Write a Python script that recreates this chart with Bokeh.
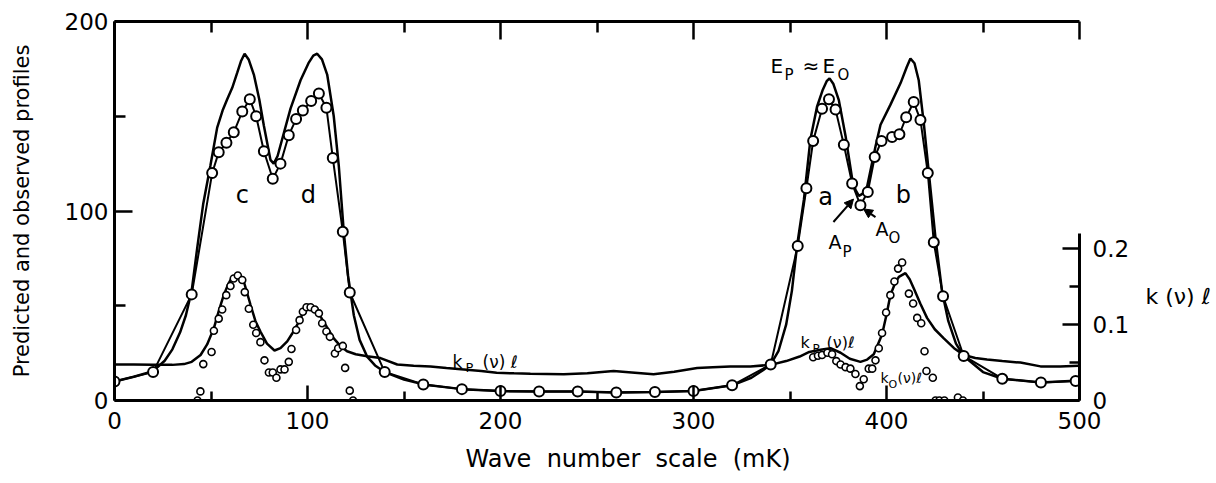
from bokeh.plotting import figure
from bokeh.models import (Range1d, LinearAxis, FixedTicker, CustomJSTickFormatter,
                          Label, Arrow, NormalHead, Title)
from bokeh.embed import file_html
from bokeh.resources import INLINE

# ---------------- data ----------------
# Observed profile E_O (open circles joined by a line)
eo_x = [0, 20, 40, 50.6, 54, 58, 61.8, 66.2, 70.1, 73.4, 77.4, 82, 86, 90.3, 94.1, 97.6,
        101.9, 105.9, 109.8, 113.1, 118.3, 121.9, 140, 160, 180, 200, 220, 240, 260, 280,
        300, 320, 340, 354, 358.5, 362, 366.6, 370.2, 373.6, 377.9, 382.2, 386.5, 390.3,
        393.9, 397.4, 402.9, 406.7, 410.2, 414.1, 417.6, 421.4, 424.5, 429.3, 440, 460,
        480, 498]
eo_y = [10, 15, 56, 120, 131, 136, 141.5, 152.5, 159, 150, 131.5, 117, 125, 140, 148.5, 153,
        158, 162, 154.5, 128, 89, 57, 15, 8.5, 6, 5, 4.7, 4.7, 4.2, 4.5,
        5, 8, 19, 81.5, 112, 137, 154, 159, 153.5, 135, 114.5, 103, 110,
        128.5, 137, 139, 140.5, 149.5, 157.5, 148, 120, 83.5, 55, 23.5, 11.5,
        9.5, 10.3]

# Predicted profile E_P (solid line)
ep_x = [0, 10, 20, 26, 30, 34, 37, 40, 42.8, 46, 49.7, 53.2, 56, 58.4, 61, 63.6, 65.5, 67.4,
        69.5, 72.2, 75, 77.4, 80.8, 82.5, 84.5, 86.9, 91.2, 96.4, 100.5, 103, 105, 107.5,
        110.2, 113.6, 116.2, 118.8, 121, 124, 127, 131, 135, 140, 150, 160, 180, 200, 220,
        240, 260, 280, 300, 320, 330, 336, 340, 344, 348, 351, 353.7, 357.2, 360.6, 364,
        367, 369, 370.5, 372.5, 375.3, 378.8, 382.2, 384, 385.7, 387.5, 390, 394.3, 396.9,
        402, 407.3, 410.5, 412.4, 414.5, 416.7, 419.3, 422.8, 425.4, 428.8, 432, 436, 440,
        450, 460, 480, 500]
ep_y = [10, 12.5, 15.5, 21, 27, 36, 45, 58, 80, 104, 124, 144, 153, 159, 165, 173, 179, 183,
        180, 172, 159, 145, 127, 125, 129, 138, 154, 169, 178, 182, 183, 180,
        172, 150, 124, 89, 66, 45, 32, 23, 18.5, 15, 11, 8.5, 6, 5, 4.7,
        4.7, 4.2, 4.5, 5, 8, 12, 16, 19, 26, 40, 58, 82, 106, 138, 155,
        164, 168.5, 170, 167, 158.5, 139.5, 117, 111, 108, 109, 113, 134, 145.5,
        156, 167.5, 176, 180.5, 178, 169, 146.5, 111.5, 85.5, 57.5, 42, 30, 23.5,
        15, 11.5, 9.5, 10.5]

# Predicted absorption k_P(nu)l (right axis)
kp_x = [0, 10, 20, 30, 36, 40, 44.6, 48, 51.5, 54, 56.6, 59, 61, 63.9, 67, 70.5, 73, 75.6,
        79, 82.9, 86, 89.5, 92, 94.7, 97, 99, 101.6, 104, 106.7, 110, 113.6, 117, 120.5,
        125, 130.9, 137.8, 146.5, 155, 163.7, 172, 181, 190, 198, 207, 215.5, 224, 232.8,
        245, 258.6, 268, 279.3, 290, 301.9, 310, 319, 329.5, 340, 348, 355, 360, 365.8,
        371, 376.2, 381, 386.5, 390, 393.4, 397.7, 400, 402, 404.5, 406.4, 409.8, 412,
        414.1, 417.5, 421, 425, 429.7, 435, 440, 446, 452.1, 460, 469.4, 479.8, 490, 499.5]
kp_y = [0.0475, 0.0475, 0.047, 0.047, 0.048, 0.051, 0.060, 0.074, 0.0955, 0.118, 0.139,
        0.154, 0.163, 0.166, 0.157, 0.126, 0.105, 0.091, 0.075, 0.066, 0.069, 0.078, 0.088,
        0.100, 0.112, 0.120, 0.125, 0.121, 0.111, 0.097, 0.082, 0.072, 0.065, 0.061, 0.0585,
        0.056, 0.0475, 0.046, 0.045, 0.043, 0.041, 0.039, 0.0367, 0.0358, 0.0353, 0.035,
        0.0345, 0.036, 0.039, 0.037, 0.0345, 0.038, 0.043, 0.044, 0.045, 0.045, 0.047,
        0.052, 0.058, 0.064, 0.067, 0.069, 0.063, 0.055, 0.051, 0.054, 0.061, 0.087, 0.113,
        0.139, 0.155, 0.163, 0.168, 0.160, 0.148, 0.128, 0.109, 0.094, 0.082, 0.069, 0.060,
        0.056, 0.054, 0.052, 0.050, 0.045, 0.045, 0.046]

# Observed absorption k_O(nu)l (small open circles, right axis)
ko_x = [43, 44.5, 46, 50.3, 51.5, 54, 55.8, 57.9, 60.1, 61.8, 63.9, 66.2, 67.5, 69.6, 71.9,
        73.4, 75.6, 77.7, 80, 82, 83.9, 86, 88.1, 90.3, 91.7, 94.1, 95.9, 97.6, 99.5, 101.6,
        103.8, 105.9, 107.6, 109.8, 111.6, 114.2, 115.9, 118.3, 119.5, 121.9, 123.6,
        362, 364.5, 366.6, 369.4, 371.8, 374, 376.2, 378.8, 381.3, 383.9, 386.2, 388.2,
        390.8, 392.6, 394.3, 396, 397.7, 399.8, 402, 404.1, 406, 408.1, 411.6, 413.8,
        415.9, 418, 419.7, 420.7, 424, 425.4, 427.4, 430, 437, 439.6]
ko_y = [0.0, 0.012, 0.048, 0.064, 0.092, 0.108, 0.120, 0.139, 0.151, 0.161, 0.165, 0.159,
        0.143, 0.121, 0.100, 0.089, 0.077, 0.053, 0.037, 0.037, 0.030, 0.041, 0.041, 0.051,
        0.068, 0.093, 0.106, 0.117, 0.123, 0.123, 0.120, 0.115, 0.102, 0.091, 0.084, 0.062,
        0.069, 0.072, 0.043, 0.013, 0.0,
        0.057, 0.059, 0.060, 0.063, 0.061, 0.052, 0.0475, 0.044, 0.042, 0.035, 0.019, 0.028,
        0.042, 0.042, 0.053, 0.069, 0.089, 0.116, 0.139, 0.157, 0.174, 0.182, 0.141, 0.128,
        0.109, 0.102, 0.065, 0.039, 0.030, 0.0, 0.0, 0.0, 0.004, 0.0]

x_ticks = [0, 100, 200, 300, 400, 500]
x_minor = [50, 150, 250, 350, 450]
y_ticks = [0, 100, 200]
y_minor = [50, 150]
k_ticks = [0, 0.1, 0.2]
k_minor = [0.05, 0.15]

FONT = "DejaVu Sans"

p = figure(width=1216, height=483, x_range=Range1d(0, 500), y_range=Range1d(0, 200),
           output_backend="svg", toolbar_location=None,
           x_axis_location=None, y_axis_location=None,
           min_border_left=114, min_border_right=137, min_border_top=21,
           min_border_bottom=82, background_fill_color="white",
           border_fill_color="white")
p.extra_y_ranges = {"k": Range1d(0, 0.5)}
p.outline_line_color = None
p.grid.visible = False


def style(ax, major, minor, major_len=16, minor_len=10):
    ax.ticker = FixedTicker(ticks=major, minor_ticks=minor)
    ax.axis_line_width = 3
    ax.axis_line_color = "black"
    ax.major_tick_in = major_len
    ax.major_tick_out = 0
    ax.minor_tick_in = minor_len
    ax.minor_tick_out = 0
    ax.major_tick_line_width = 2.5
    ax.minor_tick_line_width = 2.5
    ax.major_tick_line_color = "black"
    ax.minor_tick_line_color = "black"
    ax.major_label_text_font = FONT
    ax.major_label_text_font_size = "23px"
    ax.major_label_text_color = "black"


bottom = LinearAxis()
style(bottom, x_ticks, x_minor, 15, 9)
bottom.major_label_standoff = 11
p.add_layout(bottom, "below")

# x-axis title, placed like the original (left part offset)
p.add_layout(Title(text="Wave\u00a0 number\u00a0 scale\u00a0 (mK)", align="left",
                   offset=351, text_font=FONT, text_font_size="24px",
                   text_font_style="normal", text_color="black", standoff=22),
             "below")

top = LinearAxis()
style(top, x_ticks, x_minor, 18, 11)
top.major_label_text_font_size = "1px"
top.major_label_text_color = None
top.major_label_standoff = 0
p.add_layout(top, "above")

left = LinearAxis(axis_label="Predicted and observed profiles")
style(left, y_ticks, y_minor, 18, 11)
left.major_label_standoff = 6
left.axis_label_text_font = FONT
left.axis_label_text_font_size = "21px"
left.axis_label_text_font_style = "normal"
left.axis_label_text_color = "black"
left.axis_label_standoff = 28
p.add_layout(left, "left")

right = LinearAxis(y_range_name="k", bounds=(0, 0.22))
style(right, k_ticks, k_minor, 17, 10)
right.formatter = CustomJSTickFormatter(code="return tick == 0 ? '0' : tick.toFixed(1)")
right.major_label_standoff = 13
p.add_layout(right, "right")

# right-hand axis title "k(nu)l", horizontal, level with the 0.1-0.2 part of the scale
k_title_at = [0.1375]
ktitle = LinearAxis(y_range_name="k", ticker=FixedTicker(ticks=k_title_at, minor_ticks=[]),
                    formatter=CustomJSTickFormatter(code="return 'k (\u03bd) \u2113'"))
ktitle.axis_line_color = None
ktitle.major_tick_line_color = None
ktitle.minor_tick_line_color = None
ktitle.major_tick_in = 0
ktitle.major_tick_out = 0
ktitle.major_label_standoff = 13
ktitle.major_label_text_font = FONT
ktitle.major_label_text_font_size = "22px"
ktitle.major_label_text_color = "black"
p.add_layout(ktitle, "right")

# curves
p.line(ep_x, ep_y, line_color="black", line_width=2.5)
p.line(eo_x, eo_y, line_color="black", line_width=2)
p.line(kp_x, kp_y, y_range_name="k", line_color="black", line_width=2.5)
p.scatter(eo_x, eo_y, marker="circle", size=10, fill_color="white",
          line_color="black", line_width=2)
p.scatter(ko_x, ko_y, y_range_name="k", marker="circle", size=7, fill_color="white",
          line_color="black", line_width=1.6)


def lab(x, y, text, size, align="left", baseline="alphabetic", yr="default"):
    p.add_layout(Label(x=x, y=y, text=text, y_range_name=yr, text_font=FONT,
                       text_font_size=size, text_color="black", text_align=align,
                       text_baseline=baseline))


# peak letters
lab(66.3, 108.4, "c", "24px", "center")
lab(100.5, 108.4, "d", "24px", "center")
lab(368.4, 107.4, "a", "24px", "center")
lab(408.8, 108.4, "b", "24px", "center")

# E_P ≈ E_O
lab(339.9, 176.3, "E", "20px")
lab(347.2, 171.6, "P", "15px")
lab(356.5, 176.3, "≈", "20px")
lab(366.8, 176.3, "E", "20px")
lab(374.6, 171.6, "O", "15px")

# A_P and A_O with arrows
lab(370.0, 83.7, "A", "19px")
lab(377.2, 78.4, "P", "15px")
lab(394.3, 90.5, "A", "19px")
lab(401.0, 85.8, "O", "15px")
head = dict(size=9, fill_color="black", line_color="black")
p.add_layout(Arrow(x_start=372.5, y_start=94.2, x_end=382.9, y_end=106.3,
                   line_width=2, line_color="black", end=NormalHead(**head)))
p.add_layout(Arrow(x_start=394.3, y_start=96.8, x_end=388.1, y_end=101.1,
                   line_width=2, line_color="black", end=NormalHead(**head)))

# k labels inside the plot
lab(175.1, 20.5, "k", "17px")
lab(181.9, 17.4, "P", "13px")
lab(190.7, 20.5, "(ν) ℓ", "17px")

lab(355.4, 30.5, "k", "16px")
lab(361.7, 27.4, "P", "12px")
lab(368.9, 30.5, "(ν)ℓ", "16px")

lab(396.9, 12.1, "k", "14px")
lab(401.0, 8.4, "O", "11px")
lab(405.7, 12.1, "(ν)ℓ", "14px")

open("out.html", "w").write(file_html(p, INLINE))
